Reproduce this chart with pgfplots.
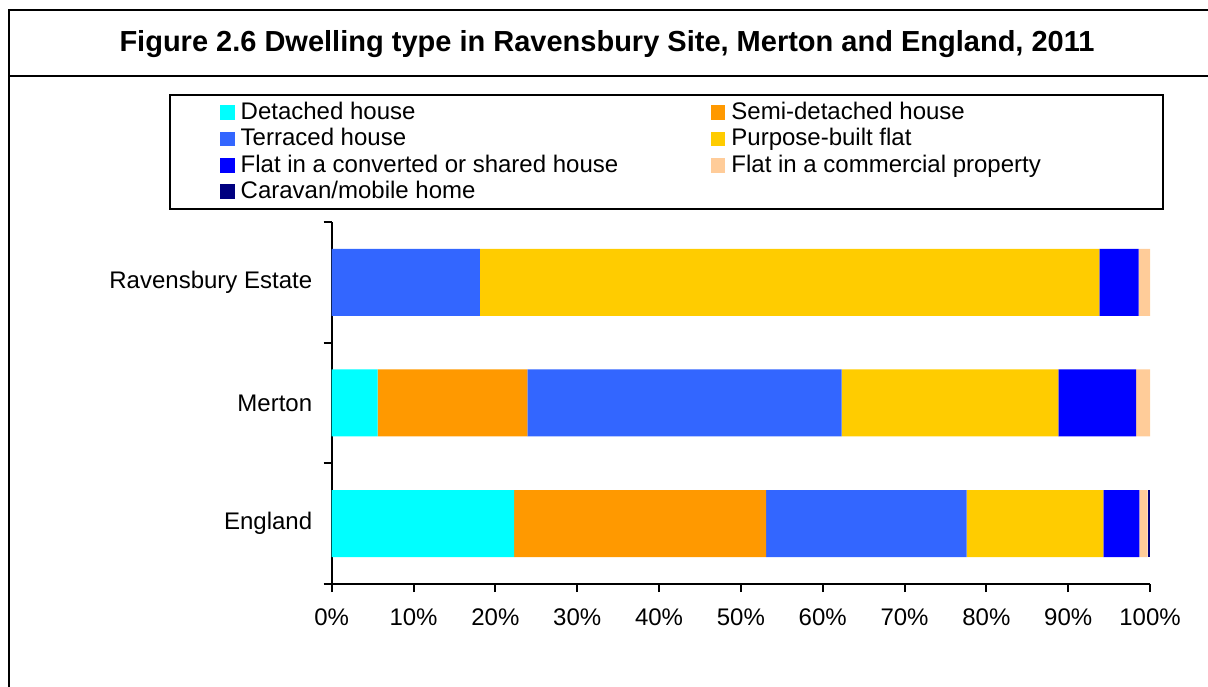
\documentclass[border=0pt]{standalone}
\usepackage{pgfplots}
\pgfplotsset{compat=1.18}
\usepackage{fontspec}
\setmainfont{Liberation Sans}
\definecolor{cDet}{HTML}{00FFFF}
\definecolor{cSemi}{HTML}{FF9900}
\definecolor{cTer}{HTML}{3366FF}
\definecolor{cPur}{HTML}{FFCC00}
\definecolor{cCon}{HTML}{0000FF}
\definecolor{cCom}{HTML}{FFCC99}
\definecolor{cCar}{HTML}{000080}
\pgfplotsset{sqleg/.style={legend image code/.code={\fill[##1] (0bp,-7.35bp) rectangle (14.7bp,7.35bp);}}}
\begin{document}
\begin{tikzpicture}
\useasboundingbox (0bp,0bp) rectangle (1208bp,687bp);
\draw[line width=2bp] (8.5bp,-5bp) -- (8.5bp,676.5bp) -- (1215bp,676.5bp);
\draw[line width=2bp] (8.5bp,611bp) -- (1215bp,611bp);
\node[anchor=base,font=\bfseries\fontsize{29bp}{34bp}\selectfont] at (607bp,635.3bp) {Figure 2.6 Dwelling type in Ravensbury Site, Merton and England, 2011};
\begin{axis}[
  at={(331.7bp,103bp)}, anchor=south west,
  scale only axis, width=818.3bp, height=362bp,
  xbar stacked, bar width=67bp,
  xmin=0, xmax=100, ymin=-0.5, ymax=2.5,
  axis x line*=bottom, axis y line*=left,
  axis line style={line width=2bp, black},
  tick align=outside, major tick length=8bp,
  tick style={line width=2bp, black},
  xtick={0,10,...,100},
  xticklabel={\pgfmathprintnumber{\tick}\%},
  /pgf/number format/assume math mode=true,
  xticklabel style={yshift=-13bp},
  ytick={-0.5,0.5,1.5,2.5},
  y tick label as interval,
  yticklabels={England,Merton,Ravensbury Estate},
  yticklabel style={xshift=-8bp},
  tick label style={font=\fontsize{24bp}{28bp}\selectfont},
  legend columns=2, legend cell align=left,
  legend style={at={(-0.1988,1.3536)}, anchor=north west, draw=black, line width=2bp, fill=white,
    inner xsep=50bp, inner ysep=4.5bp, column sep=0bp, row sep=0bp,
    nodes={inner xsep=0bp, inner ysep=2.15bp, text height=18bp, text depth=4bp, font=\fontsize{24bp}{26bp}\selectfont, anchor=west},
    /tikz/every odd column/.append style={column sep=6bp}},
]
\addplot[fill=cDet, draw=none, sqleg] coordinates {(22.3,0) (5.6,1) (0,2)};
\addlegendentry{\makebox[470bp][l]{Detached house}}
\addplot[fill=cSemi, draw=none, sqleg] coordinates {(30.8,0) (18.3,1) (0,2)};
\addlegendentry{\makebox[382bp][l]{Semi-detached house}}
\addplot[fill=cTer, draw=none, sqleg] coordinates {(24.5,0) (38.4,1) (18.1,2)};
\addlegendentry{\makebox[470bp][l]{Terraced house}}
\addplot[fill=cPur, draw=none, sqleg] coordinates {(16.7,0) (26.5,1) (75.7,2)};
\addlegendentry{\makebox[382bp][l]{Purpose-built flat}}
\addplot[fill=cCon, draw=none, sqleg] coordinates {(4.4,0) (9.5,1) (4.8,2)};
\addlegendentry{\makebox[470bp][l]{Flat in a converted or shared house}}
\addplot[fill=cCom, draw=none, sqleg] coordinates {(1.0,0) (1.7,1) (1.4,2)};
\addlegendentry{\makebox[382bp][l]{Flat in a commercial property}}
\addplot[fill=cCar, draw=none, sqleg] coordinates {(0.3,0) (0,1) (0,2)};
\addlegendentry{\makebox[470bp][l]{Caravan/mobile home}}
\end{axis}
\end{tikzpicture}
\end{document}
